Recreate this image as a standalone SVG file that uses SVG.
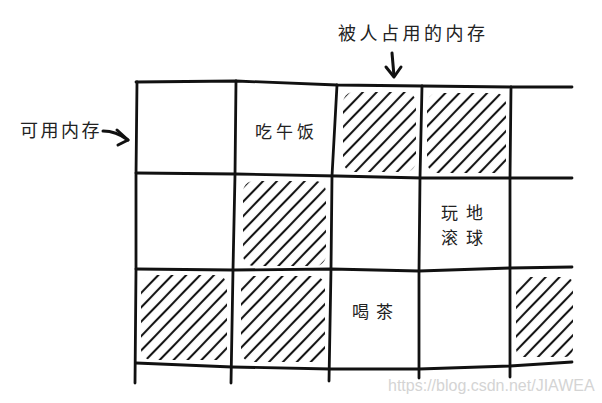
<svg xmlns="http://www.w3.org/2000/svg" width="602" height="403" viewBox="0 0 602 403">
<style>
.grid path{fill:none;stroke:#111;stroke-width:2.8;stroke-linecap:round;stroke-linejoin:round}
.arrow{fill:none;stroke:#111;stroke-width:3;stroke-linecap:round;stroke-linejoin:round}
.lbl{font-family:"Noto Sans CJK SC","Noto Sans CJK JP",sans-serif;font-size:17px;fill:#222;font-weight:400}
.big{font-size:18px}
.hatch{fill:url(#hatch)}
.wm{font-family:"Liberation Sans",Arial,sans-serif;font-size:16px;fill:#d4d4d4}
</style>
<defs>
<pattern id="hatch" patternUnits="userSpaceOnUse" width="10" height="14" patternTransform="rotate(44)">
<line x1="5" y1="-1" x2="5" y2="15" stroke="#141414" stroke-width="2.1"/>
</pattern>
</defs>
<rect width="602" height="403" fill="#fff"/>

<g id="cells">
<g id="cell-r0c2"><rect class="hatch" x="343" y="92" width="73" height="80" rx="11"/></g>
<g id="cell-r0c3"><rect class="hatch" x="427" y="93" width="79" height="80" rx="11"/></g>
<g id="cell-r1c1"><rect class="hatch" x="243" y="181" width="83" height="85" rx="11"/></g>
<g id="cell-r2c0"><rect class="hatch" x="141" y="275" width="86" height="85" rx="11"/></g>
<g id="cell-r2c1"><rect class="hatch" x="241" y="276" width="84" height="86" rx="11"/></g>
<g id="cell-r2c4"><rect class="hatch" x="516" y="277" width="57" height="80" rx="8"/></g>
<g id="cell-r0c1"><text class="lbl" x="255" y="138" letter-spacing="4">吃午饭</text></g>
<g id="cell-r1c3"><text class="lbl" x="441" y="219" letter-spacing="8">玩地</text><text class="lbl" x="441" y="244" letter-spacing="8">滚球</text></g>
<g id="cell-r2c2"><text class="lbl" x="352" y="318" letter-spacing="7">喝茶</text></g>
</g>

<g class="grid" id="grid">
<path d="M136,82 L236,81 L337,85 L422,86 L511,87 L572,87"/>
<path d="M136,173 L236,174 L337,176 L422,178 L511,178 L572,178"/>
<path d="M136,269 L233,270 L331,269 L419,271 L510,268 L572,267"/>
<path d="M136,363 L232,367 L330,369 L419,369 L510,366 L572,362"/>
<path d="M137,82 L136,175 L136,270 L135,383"/>
<path d="M236,81 L235,175 L233,270 L231,383"/>
<path d="M337,85 L332,176 L331,269 L329,381"/>
<path d="M422,86 L420,178 L419,271 L419,378"/>
<path d="M511,87 L510,178 L510,268 L510,377"/>
</g>

<g id="label-used"><text class="lbl big" x="338" y="39.5" letter-spacing="3.5">被人占用的内存</text></g>
<g id="label-free"><text class="lbl big" x="20" y="136.5" letter-spacing="2.5">可用内存</text></g>

<g id="connectors">
<path class="arrow" d="M392,53 Q393,65 394,76"/>
<path class="arrow" d="M386,67 L394,77 L401,67"/>
<path class="arrow" d="M103,131 Q116,131 128,140"/>
<path class="arrow" d="M117,130 L128,140 L118,145"/>
</g>

<text class="wm" x="388" y="391">https://blog.csdn.net/JIAWEA</text>
</svg>
